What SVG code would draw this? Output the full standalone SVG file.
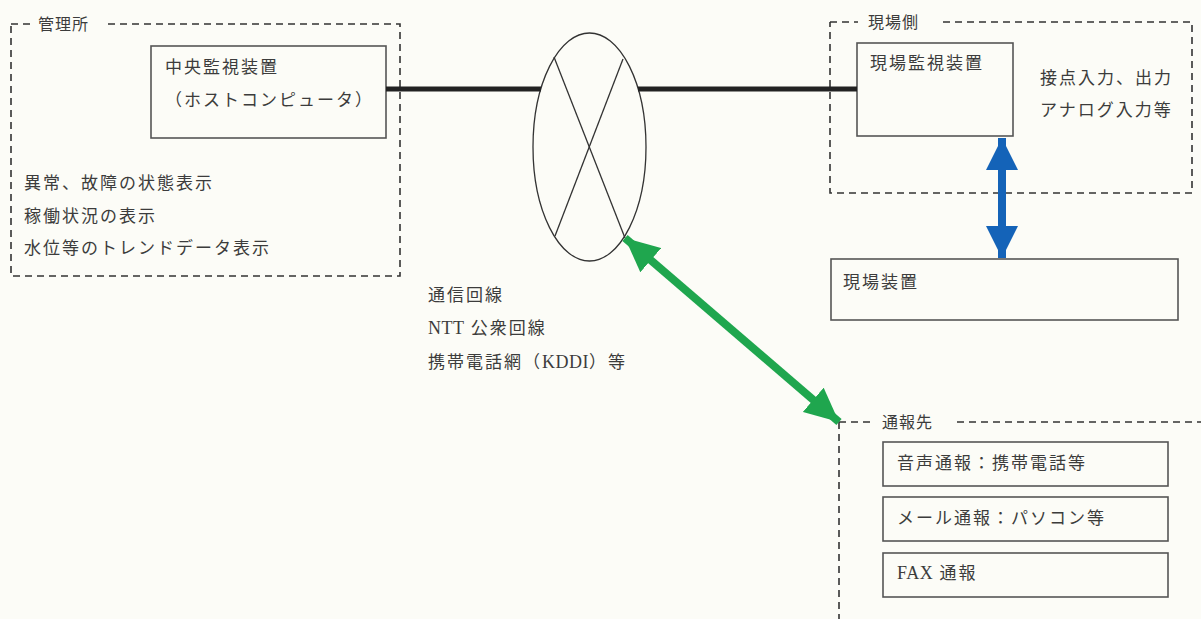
<svg xmlns="http://www.w3.org/2000/svg" width="1201" height="619" viewBox="0 0 1201 619">
<defs>
<style>
.t{font-family:"Liberation Serif","Noto Sans CJK JP",serif;font-size:17px;fill:#3c3c3c;letter-spacing:2px}
.lat{font-size:18px;letter-spacing:0.5px}
.lbl{font-family:"Liberation Serif","Noto Sans CJK JP",serif;font-size:16px;fill:#3c3c3c;letter-spacing:1px}
.dash{fill:none;stroke:#333;stroke-width:1.6;stroke-dasharray:7 5}
.box{fill:none;stroke:#555;stroke-width:1.6}
.thick{stroke:#222;stroke-width:5;fill:none}
.thin{stroke:#333;stroke-width:1.3;fill:none}
</style>
<marker id="ahB" markerUnits="userSpaceOnUse" markerWidth="32" markerHeight="32" viewBox="0 0 32 32" refX="32" refY="16" orient="auto-start-reverse"><path d="M0,0 L32,16 L0,32 z" fill="#1463b8"/></marker>
<marker id="ahG" markerUnits="userSpaceOnUse" markerWidth="34" markerHeight="32" viewBox="0 0 34 32" refX="34" refY="16" orient="auto-start-reverse"><path d="M0,0 L34,16 L0,32 z" fill="#1fa64e"/></marker>
</defs>
<rect x="0" y="0" width="1201" height="619" fill="#fcfcf7"/>

<g id="kanrisho">
<path class="dash" d="M11,24 L32,24 M108,24 L400,24 L400,276 L11,276 L11,24"/>
<text class="lbl" x="38" y="30">管理所</text>
<text class="t" x="24" y="189">異常、故障の状態表示</text>
<text class="t" x="24" y="222">稼働状況の表示</text>
<text class="t" x="24" y="254">水位等のトレンドデータ表示</text>
</g>

<g id="chuo">
<rect class="box" x="151" y="46" width="235" height="92"/>
<text class="t" x="165" y="73">中央監視装置</text>
<text class="t" x="165" y="106">（ホストコンピュータ）</text>
</g>

<g id="network">
<ellipse class="thin" cx="589.5" cy="147" rx="56.5" ry="114"/>
<line class="thin" x1="554" y1="57" x2="625" y2="238"/>
<line class="thin" x1="623" y1="59" x2="555" y2="236"/>
<text class="t" x="428" y="301">通信回線</text>
<text class="t" x="428" y="334"><tspan class="lat">NTT</tspan> 公衆回線</text>
<text class="t" x="428" y="368">携帯電話網（<tspan class="lat">KDDI</tspan>）等</text>
</g>

<g id="genbagawa">
<path class="dash" d="M830,22 L858,22 M943,22 L1192,22 L1192,193 L830,193 L830,22"/>
<text class="lbl" x="868" y="28">現場側</text>
<text class="t" x="1040" y="84">接点入力、出力</text>
<text class="t" x="1040" y="116">アナログ入力等</text>
</g>

<g id="genbakanshi">
<rect class="box" x="857" y="43" width="156" height="93"/>
<text class="t" x="870" y="69">現場監視装置</text>
</g>

<g id="genbasouchi">
<rect class="box" x="831" y="259" width="347" height="61"/>
<text class="t" x="843" y="288">現場装置</text>
</g>

<g id="tsuhosaki">
<path class="dash" d="M839,422 L870,422 M957,422 L1201,422 M839,422 L839,619"/>
<text class="lbl" x="882" y="428">通報先</text>
</g>

<g id="onsei">
<rect class="box" x="883" y="442" width="285" height="44"/>
<text class="t" x="897" y="469">音声通報：携帯電話等</text>
</g>
<g id="mail">
<rect class="box" x="883" y="497" width="285" height="44"/>
<text class="t" x="897" y="524">メール通報：パソコン等</text>
</g>
<g id="fax">
<rect class="box" x="883" y="553" width="285" height="44"/>
<text class="t" x="897" y="579"><tspan class="lat">FAX</tspan> 通報</text>
</g>

<g id="connectors">
<line class="thick" x1="386" y1="89" x2="541" y2="89"/>
<line class="thick" x1="638" y1="89" x2="857" y2="89"/>
<line x1="1002" y1="138" x2="1002" y2="258" stroke="#1463b8" stroke-width="8" marker-start="url(#ahB)" marker-end="url(#ahB)"/>
<line x1="625" y1="238" x2="839" y2="422" stroke="#1fa64e" stroke-width="8" marker-start="url(#ahG)" marker-end="url(#ahG)"/>
</g>
</svg>
